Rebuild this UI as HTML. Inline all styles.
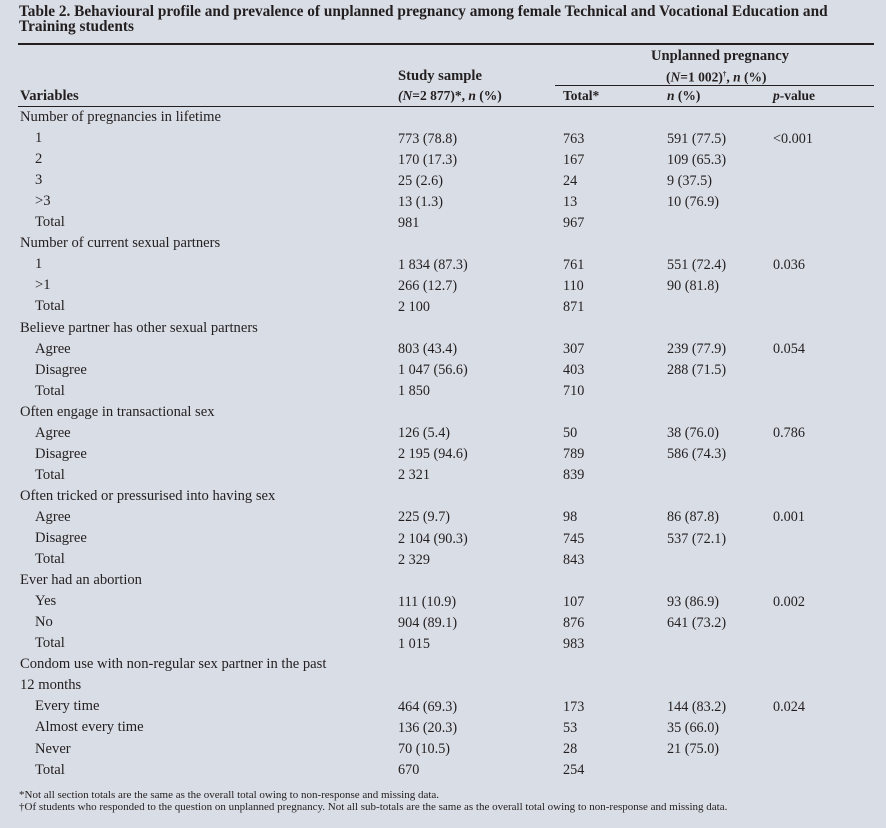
<!DOCTYPE html>
<html><head><meta charset="utf-8"><style>
body{margin:0;width:886px;height:828px;background:#d9dde5;font-family:"Liberation Serif",serif;color:#231f20;position:relative;overflow:hidden}
.t{position:absolute;white-space:nowrap;font-size:14.6px;line-height:20px}
.b{font-weight:bold}
.ln{position:absolute;background:#231f20}
.fn{position:absolute;font-size:11px;white-space:nowrap;line-height:12px}
</style></head><body>
<div class="t b" style="left:19px;top:4px;font-size:15.3px;line-height:15px">Table 2. Behavioural profile and prevalence of unplanned pregnancy among female Technical and Vocational Education and<br>Training students</div>
<div class="ln" style="left:18px;top:43px;width:856px;height:2px"></div>
<div class="t b" style="left:398px;top:66px">Study sample</div>
<div class="t b" style="left:398px;top:86px;font-size:13.5px"><i>(N</i>=2 877)*, <i>n</i> (%)</div>
<div class="t b" style="left:651px;top:46px">Unplanned pregnancy</div>
<div class="t b" style="left:666px;top:64px;font-size:13.5px">(<i>N</i>=1 002)<sup style="font-size:7px">†</sup>, <i>n</i> (%)</div>
<div class="ln" style="left:555px;top:85px;width:319px;height:1px"></div>
<div class="t b" style="left:20px;top:86px">Variables</div>
<div class="t b" style="left:563px;top:86px;font-size:13.5px">Total*</div>
<div class="t b" style="left:667px;top:86px;font-size:13.5px"><i>n</i> (%)</div>
<div class="t b" style="left:773px;top:86px;font-size:13.5px"><i>p</i>-value</div>
<div class="ln" style="left:18px;top:106px;width:856px;height:1px"></div>
<div id="rows"></div>
<div class="fn" style="left:19px;top:789px">*Not all section totals are the same as the overall total owing to non-response and missing data.</div>
<div class="fn" style="left:19px;top:801px">†Of students who responded to the question on unplanned pregnancy. Not all sub-totals are the same as the overall total owing to non-response and missing data.</div>
<script>
const rows=[
["h","Number of pregnancies in lifetime"],
["1","773 (78.8)","763","591 (77.5)","<0.001"],
["2","170 (17.3)","167","109 (65.3)",""],
["3","25 (2.6)","24","9 (37.5)",""],
[">3","13 (1.3)","13","10 (76.9)",""],
["Total","981","967","",""],
["h","Number of current sexual partners"],
["1","1 834 (87.3)","761","551 (72.4)","0.036"],
[">1","266 (12.7)","110","90 (81.8)",""],
["Total","2 100","871","",""],
["h","Believe partner has other sexual partners"],
["Agree","803 (43.4)","307","239 (77.9)","0.054"],
["Disagree","1 047 (56.6)","403","288 (71.5)",""],
["Total","1 850","710","",""],
["h","Often engage in transactional sex"],
["Agree","126 (5.4)","50","38 (76.0)","0.786"],
["Disagree","2 195 (94.6)","789","586 (74.3)",""],
["Total","2 321","839","",""],
["h","Often tricked or pressurised into having sex"],
["Agree","225 (9.7)","98","86 (87.8)","0.001"],
["Disagree","2 104 (90.3)","745","537 (72.1)",""],
["Total","2 329","843","",""],
["h","Ever had an abortion"],
["Yes","111 (10.9)","107","93 (86.9)","0.002"],
["No","904 (89.1)","876","641 (73.2)",""],
["Total","1 015","983","",""],
["h","Condom use with non-regular sex partner in the past"],
["h","12 months"],
["Every time","464 (69.3)","173","144 (83.2)","0.024"],
["Almost every time","136 (20.3)","53","35 (66.0)",""],
["Never","70 (10.5)","28","21 (75.0)",""],
["Total","670","254","",""]];
const xs=[35,398,563,667,773];
const box=document.getElementById('rows');
rows.forEach((r,i)=>{
 const top=107+i*21.05;
 if(r[0]==="h"){
  const d=document.createElement('div');d.className='t';
  
  
  d.style.left='20px';d.style.top=top+'px';d.textContent=r[1];box.appendChild(d);return;}
 r.forEach((v,j)=>{ if(!v)return;
  const d=document.createElement('div');d.className='t';
  
  
  d.style.left=xs[j]+'px';d.style.top=(top+(j>0?0.5:0))+'px';d.textContent=v;
  if(j>0)d.style.fontSize='14.2px';
  box.appendChild(d);});
});
</script>
</body></html>
